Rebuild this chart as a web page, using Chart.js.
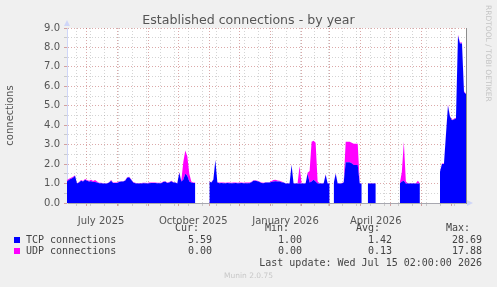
<!DOCTYPE html>
<html><head><meta charset="utf-8">
<script src="https://cdn.jsdelivr.net/npm/chart.js@4/dist/chart.umd.min.js"></script>
<style>
html,body{margin:0;padding:0;background:#F0F0F0;}
#wrap{position:relative;width:497px;height:287px;overflow:hidden;font-family:"DejaVu Sans",sans-serif;}
canvas{position:absolute;left:0;top:0;}
.t{position:absolute;white-space:pre;line-height:12px;}
.mono{font-family:"DejaVu Sans Mono",monospace;font-size:10px;color:#444;}
.r{text-align:right;}
.sq{position:absolute;width:6px;height:6px;}
</style></head>
<body><div id="wrap">
<canvas id="c" width="497" height="287"></canvas>
<div class="t" id="title" style="left:0;width:497px;top:12px;text-align:center;font-size:12.6px;line-height:15px;color:#555;">Established connections - by year</div>
<div class="t" style="left:483px;top:5px;writing-mode:vertical-rl;font-size:7.5px;line-height:10px;color:#c4c4c4;">RRDTOOL / TOBI OETIKER</div>
<div class="t mono r" style="right:298px;top:222px;">Cur:</div>
<div class="t mono r" style="right:208px;top:222px;">Min:</div>
<div class="t mono r" style="right:117px;top:222px;">Avg:</div>
<div class="t mono r" style="right:27px;top:222px;">Max:</div>
<div class="sq" style="left:14px;top:237px;background:#0000FF;"></div>
<div class="t mono" style="left:26px;top:234px;">TCP connections</div>
<div class="t mono r" style="right:285px;top:234px;">5.59</div>
<div class="t mono r" style="right:195px;top:234px;">1.00</div>
<div class="t mono r" style="right:105px;top:234px;">1.42</div>
<div class="t mono r" style="right:15px;top:234px;">28.69</div>
<div class="sq" style="left:14px;top:248px;background:#FF00FF;"></div>
<div class="t mono" style="left:26px;top:245px;">UDP connections</div>
<div class="t mono r" style="right:285px;top:245px;">0.00</div>
<div class="t mono r" style="right:195px;top:245px;">0.00</div>
<div class="t mono r" style="right:105px;top:245px;">0.13</div>
<div class="t mono r" style="right:15px;top:245px;">17.88</div>
<div class="t mono r" style="right:15px;top:257px;">Last update: Wed Jul 15 02:00:00 2026</div>
<div class="t" style="left:0;width:497px;top:271px;text-align:center;font-size:7.5px;line-height:10px;color:#c8c8c8;">Munin 2.0.75</div>
<div style="position:absolute;left:64px;top:20px;width:0;height:0;border-left:3px solid transparent;border-right:3px solid transparent;border-bottom:6px solid #CFD6F8;"></div>
<div style="position:absolute;left:467px;top:200px;width:0;height:0;border-top:3px solid transparent;border-bottom:3px solid transparent;border-left:6px solid #CFD6F8;"></div>
</div>
<script>
// ---- data: one value per 2-day bin, starting 11 Jun 2025 (null = no data) ----
const tcp = [
1.1,1.2,1.25,1.3,1.4,1.0,1.05,1.15,1.1,1.2,
1.15,1.1,1.12,1.08,1.08,1.05,1.02,1.02,1.0,1.0,
1.0,1.05,1.15,1.03,1.03,1.03,1.08,1.1,1.1,1.15,
1.3,1.32,1.2,1.05,1.02,1.0,1.0,1.0,1.02,1.02,
1.0,1.02,1.03,1.03,1.03,1.02,1.02,1.02,1.08,1.1,
1.03,1.05,1.12,1.06,1.05,1.0,1.55,1.1,1.2,1.5,
1.4,1.1,1.05,1.03,1.03,null,null,null,null,null,
null,1.1,1.05,1.2,2.2,1.05,1.02,1.03,1.02,1.02,
1.03,1.02,1.02,1.02,1.03,1.02,1.02,1.03,1.02,1.02,
1.02,1.02,1.07,1.15,1.15,1.12,1.08,1.03,1.02,1.05,
1.05,1.05,1.08,1.1,1.12,1.1,1.1,1.07,1.05,1.0,
1.0,1.0,1.95,1.0,1.0,1.0,1.0,1.0,1.0,1.0,
1.5,1.05,1.1,1.2,1.1,1.0,1.0,1.0,1.0,1.45,
1.0,1.0,null,1.0,1.5,1.0,1.0,1.0,1.05,2.1,
2.1,2.1,2.05,1.95,1.95,1.95,1.0,1.0,null,null,
1.0,1.0,1.0,1.0,1.0,null,null,null,null,null,
null,null,null,null,null,null,1.0,1.1,1.15,1.0,
1.0,1.0,1.0,1.0,1.0,1.0,1.0,null,null,null,
null,null,null,null,null,null,1.6,2.0,2.0,3.5,
5.0,4.45,4.25,4.3,4.35,8.6,8.2,8.2,5.7,5.6
];
const udp = [
0.08,0.05,0.05,0.05,0.03,0.02,0.03,0.03,0.03,0.03,
0.03,0.05,0.08,0.05,0.1,0.05,0.02,0.02,0.02,0.02,
0.02,0.02,0.03,0.02,0.02,0.02,0.02,0.02,0.02,0.02,
0.03,0.03,0.02,0.03,0.02,0.02,0.03,0.03,0.02,0.02,
0.03,0.04,0.03,0.03,0.02,0.02,0.02,0.02,0.02,0.02,
0.02,0.03,0.03,0.02,0.02,0.02,0.05,0.05,0.9,1.2,
1.0,0.4,0.05,0.02,0.02,null,null,null,null,null,
null,0.02,0.02,0.02,0.03,0.02,0.03,0.03,0.03,0.02,
0.03,0.03,0.02,0.03,0.03,0.02,0.03,0.03,0.02,0.03,
0.03,0.03,0.02,0.02,0.02,0.02,0.02,0.02,0.02,0.02,
0.02,0.02,0.05,0.08,0.08,0.06,0.04,0.03,0.02,0.02,
0.02,0.02,0.03,0.02,0.02,0.02,0.9,0.02,0.02,0.02,
0.05,0.6,2.05,2.0,2.0,0.1,0.02,0.02,0.02,0.03,
0.02,0.02,null,0.02,0.03,0.02,0.02,0.02,0.03,1.05,
1.05,1.05,1.05,1.1,1.1,1.1,0.02,0.02,null,null,
0.02,0.02,0.02,0.02,0.02,null,null,null,null,null,
null,null,null,null,null,null,0.02,0.5,2.0,0.1,
0.02,0.02,0.02,0.02,0.02,0.15,0.02,null,null,null,
null,null,null,null,null,null,0.05,0.03,0.03,0.05,
0.05,0.03,0.03,0.03,0.03,0.05,0.05,0.05,0.05,0.02
];
const seriesNames = ['TCP connections', 'UDP connections'];
const xLabels = ['July 2025', 'October 2025', 'January 2026', 'April 2026'];
const yMajorTicks = [0,1,2,3,4,5,6,7,8,9];

// ---- calendar helpers (day 0 = 11 Jun 2025) ----
const START = Date.UTC(2025, 5, 11);
const DAY = 86400000;
const dayIndex = (y, m, d) => (Date.UTC(y, m, d) - START) / DAY;
const monthLines = [];
for (let k = 0; k <= 12; k++) monthLines.push(dayIndex(2025, 6 + k, 1));
const weekLines = [];
for (let d = 10; d < 400; d += 14) weekLines.push(d);
const gridDays = [...new Set([...monthLines, ...weekLines])].sort((a, b) => a - b);
const majorSet = new Set(monthLines);
const xLabelDays = [dayIndex(2025, 6, 16), dayIndex(2025, 9, 16), dayIndex(2026, 0, 16), dayIndex(2026, 3, 16)];
const yTicks = [];
yMajorTicks.forEach(v => { yTicks.push(v); if (v < 9) yTicks.push(v + 0.5); });

const RED = 'rgba(160,30,30,0.38)';
const GRAY = 'rgba(120,120,120,0.32)';
const FONT = {family: 'DejaVu Sans', size: 10};

const toPts = arr => arr.map((v, i) => ({x: 2 * i + 1, y: v}));

const bgPlugin = {
  id: 'plotBg',
  beforeDraw(chart) {
    const a = chart.chartArea, ctx = chart.ctx;
    ctx.save(); ctx.fillStyle = '#FFFFFF';
    ctx.fillRect(a.left, a.top, a.right - a.left, a.bottom - a.top);
    ctx.restore();
  }
};

new Chart(document.getElementById('c'), {
  type: 'line',
  data: {
    datasets: [
      {label: seriesNames[0], data: toPts(tcp), backgroundColor: '#0000FF', borderColor: 'rgba(0,0,0,0)', borderWidth: 0,
       fill: 'origin', tension: 0, pointRadius: 0, spanGaps: false, xAxisID: 'x', yAxisID: 'y'},
      {label: seriesNames[1], data: toPts(udp), backgroundColor: '#FF00FF', borderColor: 'rgba(0,0,0,0)', borderWidth: 0,
       fill: '-1', tension: 0, pointRadius: 0, spanGaps: false, xAxisID: 'x', yAxisID: 'y'}
    ]
  },
  options: {
    responsive: false, animation: false, devicePixelRatio: 1,
    layout: {padding: {left: 0, right: 31, top: 28, bottom: 61}},
    plugins: {legend: {display: false}, tooltip: {enabled: false}, title: {display: false}},
    scales: {
      x: {
        type: 'linear', min: 1, max: 399, position: 'bottom', weight: 0, z: 1,
        afterBuildTicks: s => { s.ticks = gridDays.map(v => ({value: v})); },
        afterFit: s => { s.height = 3; },
        ticks: {display: false},
        grid: {color: c => majorSet.has(c.tick && c.tick.value) ? RED : GRAY, lineWidth: 1, drawTicks: true, tickLength: 3},
        border: {display: true, color: '#a8a8b0', dash: [1, 2]}
      },
      x2: {
        type: 'linear', min: 1, max: 399, position: 'bottom', weight: 1,
        afterBuildTicks: s => { s.ticks = xLabelDays.map(v => ({value: v})); },
        afterFit: s => { s.height = 20; },
        ticks: {autoSkip: false, maxRotation: 0, padding: 1, font: FONT, color: '#555',
                callback: (v) => { const k = xLabelDays.indexOf(v); return k >= 0 ? xLabels[k] : ''; }},
        grid: {display: false},
        border: {display: false}
      },
      y: {
        type: 'linear', min: 0, max: 9, stacked: true, position: 'left', z: 1,
        afterBuildTicks: s => { s.ticks = yTicks.map(v => ({value: v})); },
        afterFit: s => { s.width = 67; },
        ticks: {autoSkip: false, padding: 4, font: FONT, color: '#555',
                callback: v => Number.isInteger(v) ? v.toFixed(1) : ''},
        grid: {color: c => (c.tick && Number.isInteger(c.tick.value)) ? RED : GRAY, lineWidth: 1, drawTicks: true, tickLength: 3},
        border: {display: true, color: '#CFD6F8', dash: [1, 2]},
        title: {display: true, text: 'connections', font: FONT, color: '#555', padding: {top: 4, bottom: 4}}
      },
      y2: {
        type: 'linear', position: 'right', display: true,
        afterFit: s => { s.width = 0; },
        ticks: {display: false},
        grid: {display: false},
        border: {display: true, color: '#8c8c8c'}
      }
    }
  },
  plugins: [bgPlugin]
});
</script>
</body></html>
